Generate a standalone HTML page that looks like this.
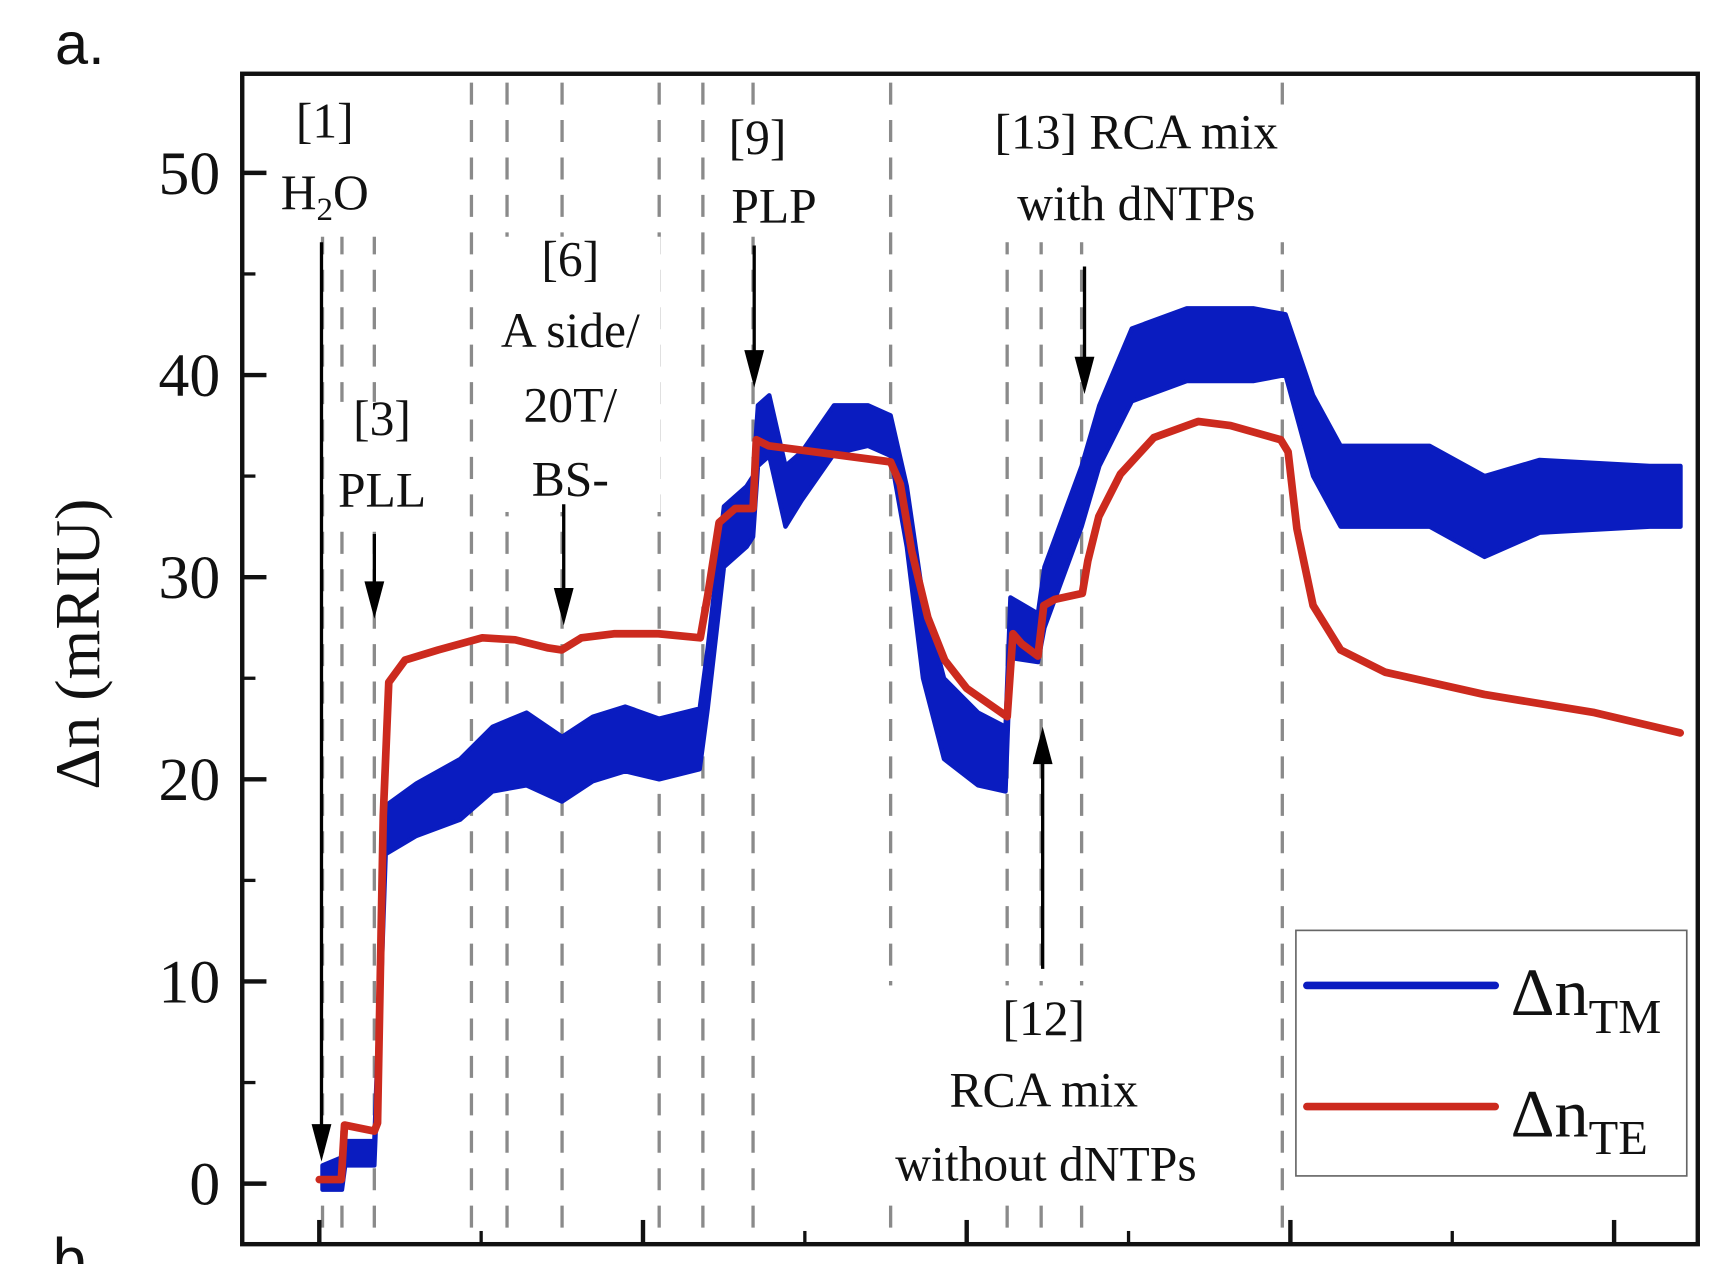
<!DOCTYPE html>
<html><head><meta charset="utf-8">
<style>
html,body{margin:0;padding:0;background:#fff;}
svg{display:block;}
text{font-family:"Liberation Serif",serif;fill:#111;}
</style></head>
<body>
<svg id="chart" width="1722" height="1264" viewBox="0 0 1564 1148" preserveAspectRatio="none" xmlns="http://www.w3.org/2000/svg">
<g id="g-back"></g>
<g id="g-series"></g>
<g id="g-labels"></g>
</svg>
<script>
// ---- data ----
const eventTimes = [2, 14, 34, 94, 116, 150, 210, 237, 268, 353, 425, 446, 471, 595];
const teTime = [0,13.6,15.6,34,36,39.5,42.9,53,73.5,100.7,121,141.5,149.7,162,182,209.5,235.4,240,247,257,268,270,277.6,353,359,366,376,386.4,400,425,428.6,434,444,447.6,454.4,471.4,474.8,481.6,495,515.6,543,563,594,598.6,604,614,631,658.5,719.7,787.8,840.8];
const teValue = [0.2,0.2,2.9,2.6,3.0,18.2,24.8,25.9,26.4,27.0,26.9,26.5,26.4,27.0,27.2,27.2,27.0,29.1,32.7,33.4,33.4,36.8,36.5,35.7,34.6,31.3,28.0,25.9,24.5,23.1,27.2,26.7,26.1,28.6,28.9,29.2,30.8,33.0,35.1,36.9,37.7,37.5,36.8,36.2,32.4,28.6,26.4,25.3,24.2,23.3,22.3];
const tmTime = [2,14,16,34,37,41,60,87,107,128,150,169,189,210,235,240,250,264,268,271,278,288,298,318,339,353,363,373,386,407,424,427,444,448,471,482,502,536,577,597,614,631,686,720,754,822,841];
const tmValue = [0.3,0.5,1.5,1.5,8,17.5,18.5,19.5,21,21.5,20.5,21.5,22,21.5,22,25,32,33,33.5,37,37.5,34,35,37.3,37.5,37,33,27,23,21.5,21,27.5,27,29,34,37,40.5,41.5,41.5,41.5,37,34.5,34.5,33,34,34,34];
const tmSpread = [0.6,0.8,0.6,0.6,1,1.2,1.3,1.5,1.6,1.8,1.6,1.6,1.6,1.5,1.5,1.5,1.5,1.5,1.5,1.5,1.5,1.5,1.2,1.2,1.0,1.0,1.5,2,2,1.8,1.6,1.5,1.2,1.5,1.5,1.5,1.8,1.8,1.8,1.5,2,2,2,2,1.8,1.5,1.5];
const yTicks = [0,10,20,30,40,50];
const yMinor = [5,15,25,35,45];
const xTicks = [0,200,400,600,800];
const xMinor = [100,300,500,700];

// ---- scales ----
const X0=220,X1=1542,Y0=67,Y1=1130;
function xs(t){return 290 + t*1.47;}
function ys(v){return 1075 - v*18.36;}
const NS='http://www.w3.org/2000/svg';
function mk(tag,attrs,parent){const e=document.createElementNS(NS,tag);for(const k in attrs)e.setAttribute(k,attrs[k]);parent.appendChild(e);return e;}
const back=document.getElementById('g-back'),ser=document.getElementById('g-series'),lab=document.getElementById('g-labels');

eventTimes.forEach((t,i)=>{
  const l=mk('line',{x1:xs(t),x2:xs(t),y1:75,y2:Y1,stroke:'#8a8a8a','stroke-width':3,'stroke-dasharray':'20,14'},back);
  
  
});
[[245,85,100,130],[302,365,95,105],[440,215,160,250],[650,100,110,115],[890,95,290,125],[780,895,340,190]].forEach(r=>{
  mk('rect',{x:r[0],y:r[1],width:r[2],height:r[3],fill:'#fff'},back);
});
[2,14,34,425,446,471].forEach(t=>mk('rect',{x:xs(t)-4,y:72,width:8,height:140,fill:'#fff'},back));

let up='',dn='';
tmTime.forEach((t,i)=>{up+=(i?'L':'M')+xs(t).toFixed(1)+','+ys(tmValue[i]+tmSpread[i]).toFixed(1);});
for(let i=tmTime.length-1;i>=0;i--){dn+='L'+xs(tmTime[i]).toFixed(1)+','+ys(tmValue[i]-tmSpread[i]).toFixed(1);}
const band=mk('path',{d:up+dn+'Z',fill:'#0a1cc0',stroke:'#0a1cc0','stroke-width':4,'stroke-linejoin':'round'},ser);


let d='';teTime.forEach((t,i)=>{d+=(i?'L':'M')+xs(t).toFixed(1)+','+ys(teValue[i]).toFixed(1);});
const te=mk('path',{d:d,fill:'none',stroke:'#cc2a1e','stroke-width':7,'stroke-linejoin':'round','stroke-linecap':'round'},ser);



const fr=mk('rect',{x:X0,y:Y0,width:X1-X0,height:Y1-Y0,fill:'none',stroke:'#111','stroke-width':4},lab);


yTicks.forEach(v=>{
  mk('line',{x1:X0,x2:X0+22,y1:ys(v),y2:ys(v),stroke:'#111','stroke-width':4},lab);
  const tx=mk('text',{x:200,y:ys(v)+19,'text-anchor':'end','font-size':56},lab);
  tx.textContent=v;
  
  
});
yMinor.forEach(v=>mk('line',{x1:X0,x2:X0+12,y1:ys(v),y2:ys(v),stroke:'#111','stroke-width':3},lab));
xTicks.forEach(t=>mk('line',{x1:xs(t),x2:xs(t),y1:Y1,y2:Y1-22,stroke:'#111','stroke-width':4},lab));
xMinor.forEach(t=>mk('line',{x1:xs(t),x2:xs(t),y1:Y1,y2:Y1-12,stroke:'#111','stroke-width':3},lab));

function arrow(x,ya,yb,name){
  const g=mk('g',{},lab);
  
  
  const dir=yb>ya?1:-1;
  mk('line',{x1:x,x2:x,y1:ya,y2:yb-dir*30,stroke:'#000','stroke-width':3},g);
  mk('polygon',{points:`${x-9},${yb-dir*34} ${x+9},${yb-dir*34} ${x},${yb}`,fill:'#000'},g);
}
arrow(292,220,1055,'arrow-step-1');
arrow(340,485,562,'arrow-step-3');
arrow(512,458,568,'arrow-step-6');
arrow(685,223,352,'arrow-step-9');
arrow(985,242,358,'arrow-step-13');
arrow(947,880,660,'arrow-step-12');

function txt(s,x,y,size,name,anchor){
  const t=mk('text',{x:x,y:y,'font-size':size,'text-anchor':anchor||'middle'},lab);
  t.innerHTML=s;
  
  
}
const F=45;
txt('[1]',295,125,F,'label-step-1');
txt('H<tspan font-size="30" dy="10">2</tspan><tspan dy="-10">O</tspan>',295,190,F,'label-h2o');
txt('[3]',347,395,F,'label-step-3');
txt('PLL',347,460,F,'label-pll');
txt('[6]',518,250,F,'label-step-6');
txt('A side/',518,315,F,'label-a-side');
txt('20T/',518,383,F,'label-20t');
txt('BS-',518,450,F,'label-bs');
txt('[9]',688,140,F,'label-step-9');
txt('PLP',703,202,F,'label-plp');
txt('[13] RCA mix',1032,135,F,'label-step-13');
txt('with dNTPs',1032,200,F,'label-with-dntps');
txt('[12]',948,940,F,'label-step-12');
txt('RCA mix',948,1005,F,'label-rca-mix');
txt('without dNTPs',950,1072,F,'label-without-dntps');

const a=mk('text',{x:50,y:58,'font-size':54,style:'font-family:"Liberation Sans",sans-serif'},lab);
a.textContent='a.';


const yl=mk('text',{x:0,y:0,'font-size':58,'text-anchor':'middle',transform:'translate(90,585) rotate(-90)'},lab);
yl.textContent='Δn (mRIU)';



const lg=mk('g',{},lab);


mk('rect',{x:1177,y:845,width:355,height:223,fill:'#fff',stroke:'#666','stroke-width':1.5},lg);
const l1=mk('line',{x1:1187,x2:1358,y1:895,y2:895,stroke:'#0a1cc0','stroke-width':7,'stroke-linecap':'round'},lg);


const l2=mk('line',{x1:1187,x2:1358,y1:1005,y2:1005,stroke:'#cc2a1e','stroke-width':7,'stroke-linecap':'round'},lg);


const t1=mk('text',{x:1372,y:922,'font-size':62},lg);
t1.innerHTML='Δn<tspan font-size="44" dy="16">TM</tspan>';


const t2=mk('text',{x:1372,y:1032,'font-size':62},lg);
t2.innerHTML='Δn<tspan font-size="44" dy="16">TE</tspan>';



const bb=mk('text',{x:48,y:1162,'font-size':54,style:'font-family:"Liberation Sans",sans-serif'},lab);
bb.textContent='b.';


</script>
</body></html>
